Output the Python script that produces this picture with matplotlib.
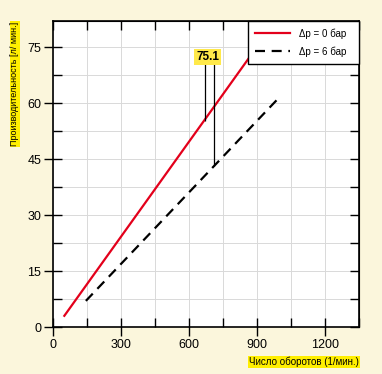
import matplotlib
matplotlib.use("Agg")
import matplotlib.pyplot as plt
import numpy as np

# Data
rpm_p0 = [50, 900]
flow_p0 = [3.0, 75.1]
rpm_p6 = [145, 990]
flow_p6 = [7.0, 61.0]
marker_rpm = [669, 709]
marker_low = [55.3, 43.2]
marker_top = 71.0
marker_label = "75.1"
marker_label_pos = (682, 72.4)
x_ticks = [0, 300, 600, 900, 1200]
y_ticks = [0, 15, 30, 45, 60, 75]
legend_labels = ["Δp = 0 бар", "Δp = 6 бар"]
xlabel = "Число оборотов (1/мин.)"
ylabel = "Производительность [л/ мин.]"

FONT = ["Liberation Sans Narrow", "Liberation Sans", "DejaVu Sans"]
plt.rcParams["font.family"] = FONT

bg = "#FBF6DC"
yellow = "#FFEF00"
red = "#E3001B"

fig = plt.figure(figsize=(3.82, 3.74), dpi=100, facecolor=bg)
W, H = 382, 374
ax = fig.add_axes([53 / W, (H - 327) / H, (359 - 53) / W, (327 - 21) / H])
ax.set_facecolor("white")
ax.set_xlim(0, 1350)
ax.set_ylim(0, 82)

minor_x = np.arange(0, 1351, 150)
minor_y = np.arange(0, 82, 7.5)
for v in minor_x:
    ax.axvline(v, color="#d9d9d9", lw=0.7, zorder=0)
for v in minor_y:
    ax.axhline(v, color="#d9d9d9", lw=0.7, zorder=0)

ax.plot(rpm_p0, flow_p0, color=red, lw=1.6, label=legend_labels[0], zorder=3)
ax.plot(rpm_p6, flow_p6, color="black", lw=1.6, ls=(0, (4.5, 3)), label=legend_labels[1], zorder=3)

ax.vlines(marker_rpm, marker_low, marker_top, color="black", lw=0.9, zorder=4)
ax.text(marker_label_pos[0], marker_label_pos[1], marker_label, ha="center", va="center",
        fontsize=8.5, fontweight="bold", family=["Liberation Sans", "DejaVu Sans"],
        bbox=dict(boxstyle="square,pad=0.15", fc="#FFE94A", ec="none"), zorder=6)

ax.set_xticks(x_ticks)
ax.set_yticks(y_ticks)
ax.set_xticks(minor_x, minor=True)
ax.set_yticks(minor_y, minor=True)
ax.tick_params(which="major", direction="inout", length=13, width=1.0, labelsize=9, pad=2, colors="black")
ax.tick_params(which="minor", direction="in", length=6.5, width=1.0)
for s in ax.spines.values():
    s.set_linewidth(1.2)

sx = ax.secondary_xaxis("top")
sx.set_xticks(minor_x)
sx.tick_params(direction="in", length=6.5, width=1.0, labeltop=False)
sy = ax.secondary_yaxis("right")
sy.set_yticks(minor_y)
sy.tick_params(direction="in", length=6.5, width=1.0, labelright=False)

x0 = (248 - 53) / 306
leg = ax.legend(loc="upper left", bbox_to_anchor=(x0, 0, 1 - x0, 1), mode="expand",
                borderaxespad=0, frameon=True, fancybox=False,
                edgecolor="black", framealpha=1, fontsize=7, handlelength=3.6,
                handletextpad=0.9, borderpad=0.75, labelspacing=0.75)
leg.get_frame().set_linewidth(1.0)
leg.set_zorder(7)

fig.text(359 / W, 1 - 362 / H, xlabel, ha="right", va="center", fontsize=7,
         bbox=dict(boxstyle="square,pad=0.1", fc=yellow, ec="none"))
fig.text(15 / W, 1 - 84 / H, ylabel, ha="center", va="center", rotation=90, fontsize=6.5,
         bbox=dict(boxstyle="square,pad=0.1", fc=yellow, ec="none"))

fig.savefig("out.png", dpi=100, facecolor=bg)
